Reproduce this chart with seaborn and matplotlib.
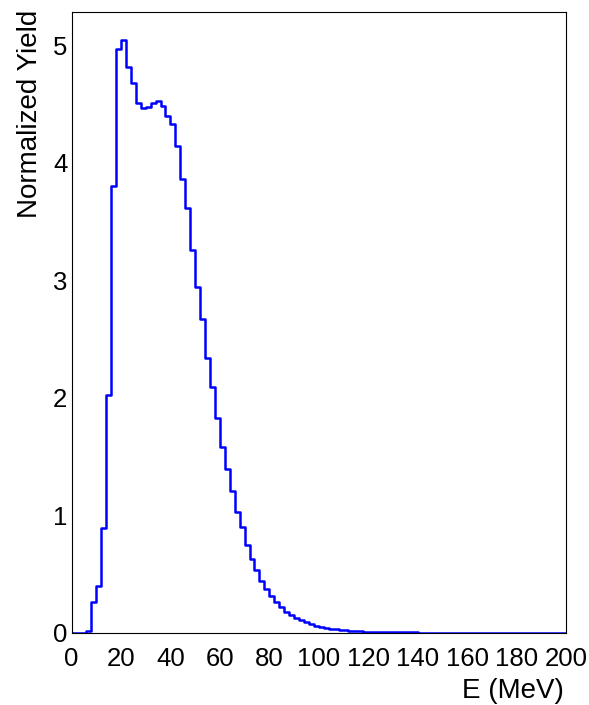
import numpy as np
import pandas as pd
import matplotlib
matplotlib.use("Agg")
import matplotlib.pyplot as plt
import seaborn as sns
from matplotlib.ticker import MultipleLocator

# 2 MeV wide bins from 0 to 200 MeV
bin_width = 2
e_range = (0, 200)

# normalized yield per bin
yield_values = [
    0.000, 0.000, 0.000, 0.015, 0.260, 0.400, 0.890, 2.020, 3.800, 4.970,
    5.040, 4.810, 4.675, 4.505, 4.465, 4.475, 4.510, 4.525, 4.485, 4.400,
    4.330, 4.140, 3.860, 3.610, 3.255, 2.940, 2.670, 2.335, 2.090, 1.830,
    1.580, 1.390, 1.210, 1.030, 0.900, 0.750, 0.630, 0.530, 0.440, 0.370,
    0.310, 0.260, 0.220, 0.180, 0.153, 0.127, 0.105, 0.088, 0.073, 0.061,
    0.051, 0.042, 0.035, 0.029, 0.024, 0.020, 0.017, 0.014, 0.012, 0.010,
    0.008, 0.007, 0.006, 0.005, 0.004, 0.0035, 0.003, 0.0025, 0.002, 0.0018,
    0.0015, 0.0013, 0.0011, 0.0010, 0.0009, 0.0008, 0.0007, 0.0006, 0.0005, 0.0005,
    0.0004, 0.0004, 0.0003, 0.0003, 0.0003, 0.0002, 0.0002, 0.0002, 0.0002, 0.0001,
    0.0001, 0.0001, 0.0001, 0.0001, 0.0001, 0.0001, 0.0000, 0.0000, 0.0000, 0.0000,
]

x_ticks = [0, 20, 40, 60, 80, 100, 120, 140, 160, 180, 200]
y_ticks = [0, 1, 2, 3, 4, 5]

bin_centers = np.arange(e_range[0], e_range[1], bin_width) + bin_width / 2
df = pd.DataFrame({"E": bin_centers, "w": yield_values})

sns.set_theme(style="white")
plt.rcParams["font.family"] = ["Liberation Sans", "DejaVu Sans"]
plt.rcParams["text.color"] = "black"
plt.rcParams["axes.labelcolor"] = "black"

fig = plt.figure(figsize=(5.89, 7.05), dpi=100)
ax = fig.add_axes([71.5 / 589, 1 - 632.7 / 705, (566 - 71.5) / 589, (632.7 - 12) / 705])

sns.histplot(data=df, x="E", weights="w", binwidth=bin_width, binrange=e_range,
             element="step", fill=False, color="#0000ff", linewidth=1.8, ax=ax)

ax.set_xlim(0, 200)
ax.set_ylim(0, 5.282)

ax.set_xticks(x_ticks)
ax.set_yticks(y_ticks)
ax.xaxis.set_minor_locator(MultipleLocator(5))
ax.yaxis.set_minor_locator(MultipleLocator(0.2))

ax.tick_params(axis="both", which="both", direction="in", colors="black",
               labelcolor="black", top=False, right=False, labelsize=18.5)
ax.tick_params(axis="x", which="major", length=13.5, width=0.8, pad=10)
ax.tick_params(axis="x", which="minor", length=7, width=0.8)
ax.tick_params(axis="y", which="major", length=10.5, width=0.8, pad=3)
ax.tick_params(axis="y", which="minor", length=5.5, width=0.8)

for s in ax.spines.values():
    s.set_visible(True)
    s.set_color("black")
    s.set_linewidth(0.8)

ax.set_xlabel("E (MeV)", fontsize=20, loc="right", color="black")
ax.set_ylabel("Normalized Yield", fontsize=20, loc="top", color="black")
ax.xaxis.label.set_verticalalignment("baseline")
ax.xaxis.set_label_coords(0.996, -0.105)
ax.yaxis.set_label_coords(-0.058, 1.004)

fig.savefig("out.png", dpi=100, facecolor="white")
